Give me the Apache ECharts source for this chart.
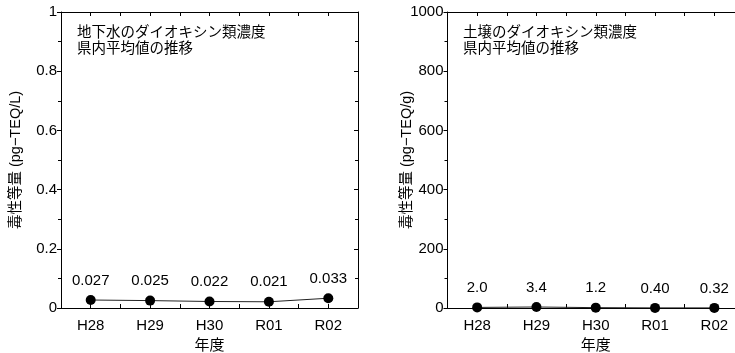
<!DOCTYPE html>
<html>
<head>
<meta charset="utf-8">
<script src="https://cdn.jsdelivr.net/npm/echarts@6/dist/echarts.min.js"></script>
<style>
html,body{margin:0;padding:0;background:#fff;}
#c{width:735px;height:353px;}
</style>
</head>
<body>
<div id="c"></div>
<script>
const categories = ['H28', 'H29', 'H30', 'R01', 'R02'];
const waterValues = [0.027, 0.025, 0.022, 0.021, 0.033];
const waterLabels = ['0.027', '0.025', '0.022', '0.021', '0.033'];
const soilValues = [2.0, 3.4, 1.2, 0.40, 0.32];
const soilLabels = ['2.0', '3.4', '1.2', '0.40', '0.32'];
const waterTitle = '地下水のダイオキシン類濃度\n県内平均値の推移';
const soilTitle = '土壌のダイオキシン類濃度\n県内平均値の推移';
const waterYName = '毒性等量 (pg−TEQ/L)';
const soilYName = '毒性等量 (pg−TEQ/g)';
const xName = '年度';
const waterTicks = {min: 0, max: 1, interval: 0.2};
const soilTicks = {min: 0, max: 1000, interval: 200};

const FONT = '"Liberation Sans", Arial, "Noto Sans CJK JP", sans-serif';
const black = '#000';

function xAxes(gi) {
  const base = {
    type: 'category', data: categories, gridIndex: gi, boundaryGap: true,
    axisLine: {show: true, lineStyle: {color: black, width: 1}},
    axisTick: {show: true, inside: true, length: 4, lineStyle: {color: black}},
    axisLabel: {show: false}, splitLine: {show: false}
  };
  return [
    Object.assign({}, base, {position: 'bottom',
      axisLabel: {show: true, margin: 10, fontSize: 15, color: black, fontFamily: FONT},
      name: xName, nameLocation: 'middle', nameGap: 30, nameMoveOverlap: false,
      nameTextStyle: {fontSize: 15, color: black, fontFamily: FONT}}),
    Object.assign({}, base, {position: 'bottom', axisLine: {show: false},
      axisTick: {show: true, inside: true, alignWithLabel: true, length: 4, lineStyle: {color: black}}}),
    Object.assign({}, base, {position: 'top'}),
    Object.assign({}, base, {position: 'top', axisLine: {show: false},
      axisTick: {show: true, inside: true, alignWithLabel: true, length: 4, lineStyle: {color: black}}})
  ];
}

function yAxes(gi, t, name, gap) {
  return [
    {type: 'value', gridIndex: gi, position: 'left', min: t.min, max: t.max, interval: t.interval,
     axisLine: {show: true, lineStyle: {color: black, width: 1}},
     axisTick: {show: true, inside: false, length: 4, lineStyle: {color: black}},
     minorTick: {show: true, splitNumber: 2, length: 3, lineStyle: {color: black}},
     axisLabel: {margin: 4, fontSize: 15, color: black, fontFamily: FONT, formatter: v => String(v)},
     splitLine: {show: false},
     name: name, nameLocation: 'middle', nameGap: gap, nameMoveOverlap: false,
     nameTextStyle: {fontSize: 14.5, color: black, fontFamily: FONT}},
    {type: 'value', gridIndex: gi, position: 'right', min: t.min, max: t.max, interval: t.interval,
     axisLine: {show: true, lineStyle: {color: black, width: 1}},
     axisTick: {show: true, inside: true, length: 4, lineStyle: {color: black}},
     minorTick: {show: true, splitNumber: 2, length: 3, lineStyle: {color: black}},
     axisLabel: {show: false}, splitLine: {show: false}}
  ];
}

function series(xi, yi, values, labels) {
  return {
    type: 'line', xAxisIndex: xi, yAxisIndex: yi, data: values,
    symbol: 'circle', symbolSize: 10,
    itemStyle: {color: black},
    lineStyle: {color: '#222', width: 1},
    label: {show: true, position: 'top', distance: 7, fontSize: 15, color: black, fontFamily: FONT,
      formatter: p => labels[p.dataIndex]},
    animation: false
  };
}

const titleStyle = {fontSize: 14.5, fontWeight: 'normal', color: black, lineHeight: 16, fontFamily: FONT};
const chart = echarts.init(document.getElementById('c'));
chart.setOption({
  animation: false,
  textStyle: {fontFamily: FONT},
  title: [
    {text: waterTitle, left: 77, top: 25, padding: 0, textStyle: titleStyle},
    {text: soilTitle, left: 463, top: 25, padding: 0, textStyle: titleStyle}
  ],
  grid: [
    {left: 61, top: 12, width: 297, height: 296, outerBoundsMode: 'none', containLabel: false},
    {left: 447.5, top: 12, width: 296.5, height: 296, outerBoundsMode: 'none', containLabel: false}
  ],
  xAxis: xAxes(0).concat(xAxes(1)),
  yAxis: yAxes(0, waterTicks, waterYName, 38).concat(yAxes(1, soilTicks, soilYName, 33)),
  series: [
    series(0, 0, waterValues, waterLabels),
    series(4, 2, soilValues, soilLabels)
  ]
});
</script>
</body>
</html>
